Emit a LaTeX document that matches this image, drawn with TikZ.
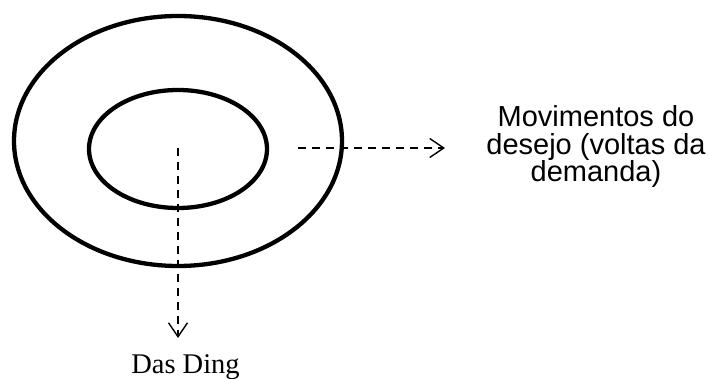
\documentclass[tikz,border=0pt]{standalone}
\usepackage{fontspec}
\setmainfont{Liberation Serif}
\newfontfamily\labelsans{Liberation Sans}
\usetikzlibrary{arrows.meta,shapes.geometric}
\begin{document}
\begin{tikzpicture}[x=1pt,y=-1pt,
  ring/.style={draw=black, line width=4.3pt, ellipse, inner sep=0pt},
  dasharrow/.style={line width=1.4pt, dash pattern=on 8pt off 6pt,
    -{Straight Barb[length=14pt,width=19pt,line width=1.4pt]}},
  sanslabel/.style={font=\labelsans\fontsize{29}{27.5}\selectfont, align=center, inner sep=0pt},
  seriflabel/.style={font=\fontsize{28.5}{30}\selectfont, inner sep=0pt}]
\useasboundingbox (0,0) rectangle (709,379);
\node[ring, minimum width=328pt, minimum height=250pt] (outer) at (178,141) {};
\node[ring, minimum width=178pt, minimum height=118pt] (inner) at (178,149) {};
\node[sanslabel, anchor=base] (desire) at (596,182) {Movimentos do\\desejo (voltas da\\demanda)};
\node[seriflabel, anchor=base] (ding) at (185.5,373) {Das Ding};
\coordinate (hs) at (298,148);
\coordinate (he) at (445,148);
\coordinate (vs) at (178,148);
\coordinate (ve) at (178,338);
\draw[dasharrow] (hs) -- (he);
\draw[dasharrow] (vs) -- (ve);
\end{tikzpicture}
\end{document}
